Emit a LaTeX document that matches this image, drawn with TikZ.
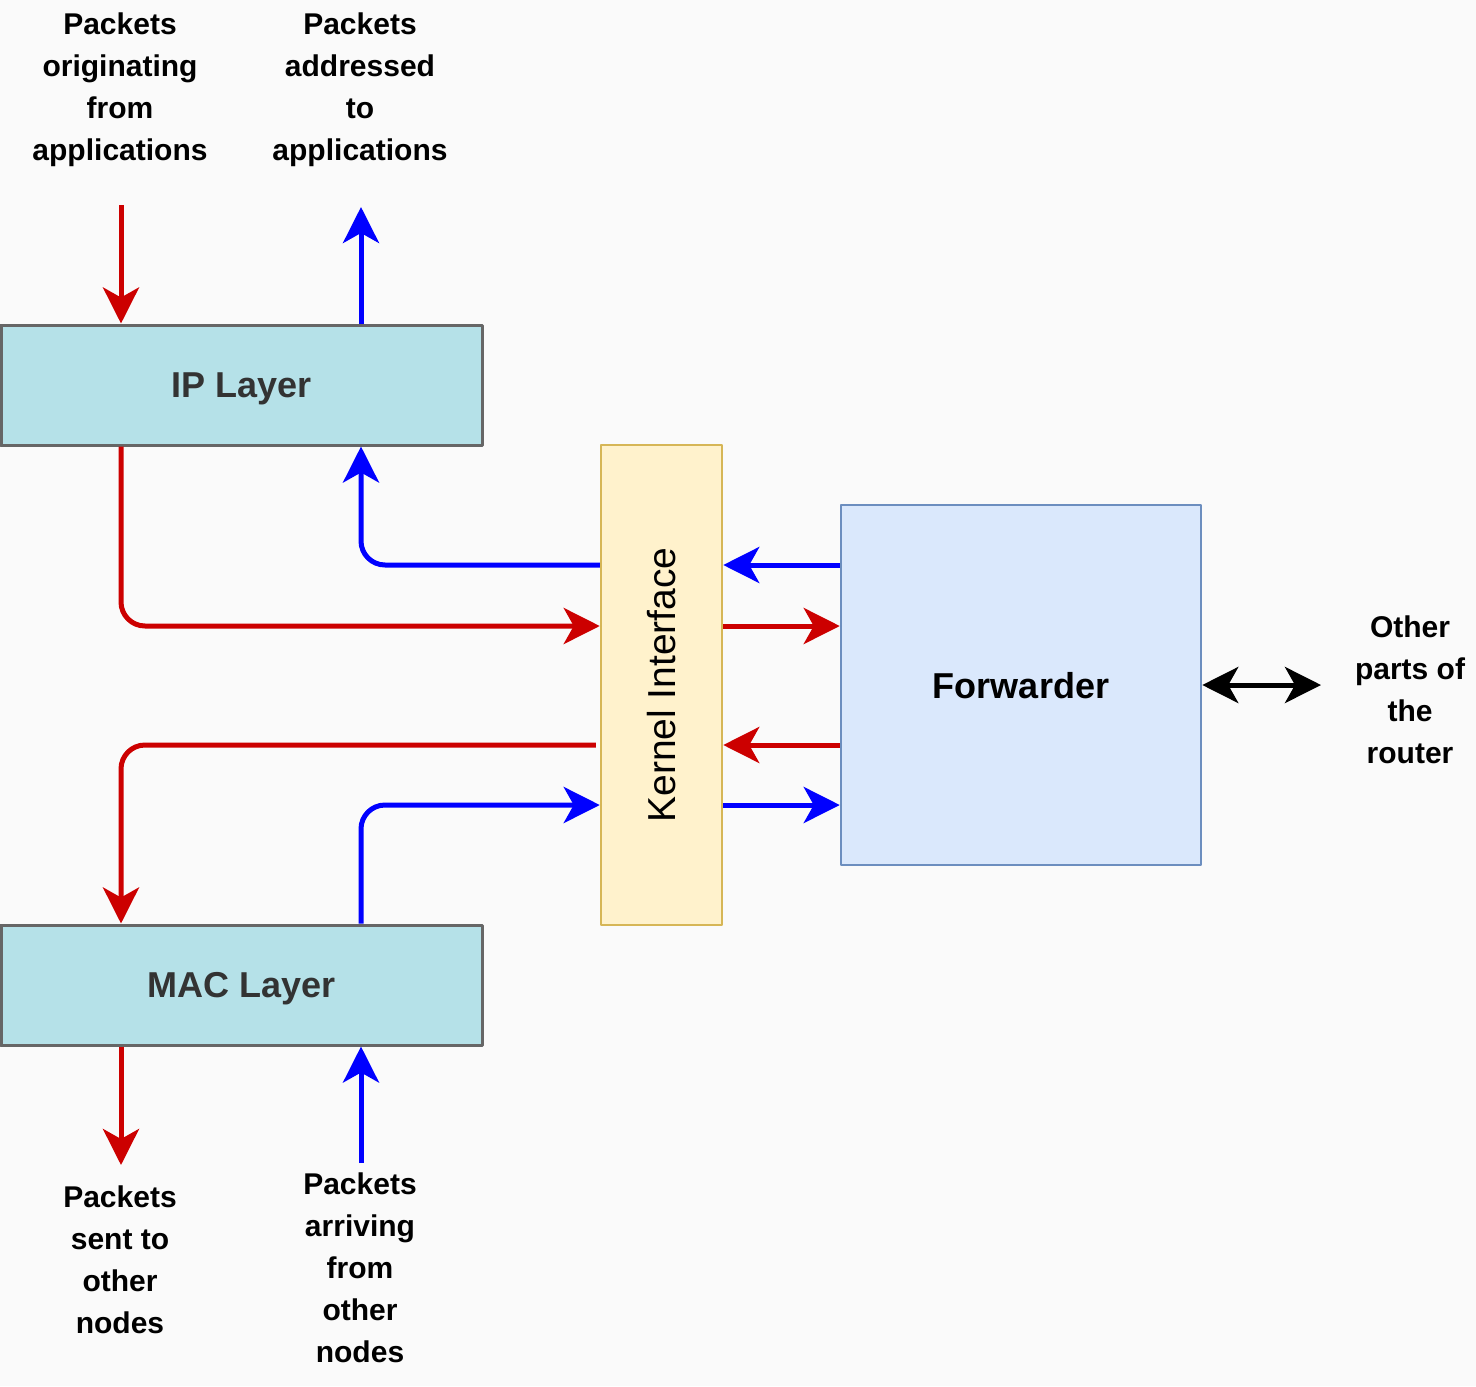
\documentclass[tikz,border=0pt]{standalone}
\usepackage{fontspec}
\setmainfont{Liberation Sans}
\usetikzlibrary{arrows.meta,calc}
\definecolor{bgcol}{HTML}{FAFAFA}
\definecolor{layerfill}{HTML}{B5E1E8}
\definecolor{layerline}{HTML}{666666}
\definecolor{layertext}{HTML}{333333}
\definecolor{kernfill}{HTML}{FFF2CC}
\definecolor{kernline}{HTML}{D6B656}
\definecolor{fwdfill}{HTML}{DAE8FC}
\definecolor{fwdline}{HTML}{6C8EBF}
\definecolor{pktred}{HTML}{CC0000}
\definecolor{pktblue}{HTML}{0000FF}
\tikzset{
  layerbox/.style={draw=layerline,fill=layerfill,line width=1.5pt,minimum width=240.5pt,minimum height=60pt,
    text=layertext,text depth=0pt,font=\bfseries\fontsize{18}{22}\selectfont},
  flowlabel/.style={align=center,font=\bfseries\fontsize{15}{21}\selectfont},
  flow/.style={line width=2.5pt,-{Stealth[length=18pt,width=18pt,inset=5pt]}},
  redflow/.style={flow,draw=pktred},
  blueflow/.style={flow,draw=pktblue},
}
\begin{document}
\begin{tikzpicture}[x=0.5pt,y=-0.5pt,line join=round]
  \fill[bgcol] (0,0) rectangle (1476,1386);
  \useasboundingbox (0,0) rectangle (1476,1386);
  % boxes
  \node[layerbox] (ip) at (241.5,385) {IP Layer};
  \node[layerbox] (mac) at (241.5,985) {MAC Layer};
  \node[draw=kernline,fill=kernfill,line width=1.25pt,minimum width=60.5pt,minimum height=240pt] (kernel) at (661.5,685) {};
  \node[rotate=90,text depth=0pt,font=\fontsize{19.5}{22}\selectfont] (kernlabel) at (kernel) {Kernel Interface};
  \node[draw=fwdline,fill=fwdfill,line width=1.25pt,minimum size=180pt,text depth=0pt,font=\bfseries\fontsize{18}{22}\selectfont] (fwd) at (1021,685) {Forwarder};
  % labels
  \node[flowlabel] (origin) at (120,90) {Packets\\originating\\from\\applications};
  \node[flowlabel] (addressed) at (360,90) {Packets\\addressed\\to\\applications};
  \node[flowlabel] (sent) at (120,1260) {Packets\\sent to\\other\\nodes};
  \node[flowlabel] (arriving) at (360,1268) {Packets\\arriving\\from\\other\\nodes};
  \node[flowlabel] (others) at (1410,690) {Other\\parts of\\the\\router};
  % ends and rows
  \coordinate (appout) at (121,205);
  \coordinate (appin) at (361,207);
  \coordinate (sentend) at (121,1165);
  \coordinate (arrend) at (361,1163);
  \coordinate (othend) at (1321,685);
  \coordinate (y1) at (0,565);
  \coordinate (y2) at (0,626);
  \coordinate (y3) at (0,745);
  \coordinate (y4) at (0,805);
  % flows
  \draw[redflow] (appout) -- (ip.north -| appout);
  \draw[blueflow] (ip.north -| appin) -- (appin);
  \draw[redflow,rounded corners=12pt] (ip.south -| appout) |- (kernel.west |- y2);
  \draw[blueflow,rounded corners=12pt] (kernel.west |- y1) -| (ip.south -| appin);
  \draw[redflow,rounded corners=12pt] ([xshift=-2pt]kernel.west |- y3) -| (mac.north -| appout);
  \draw[blueflow,rounded corners=12pt] (mac.north -| appin) |- (kernel.west |- y4);
  \draw[blueflow] (fwd.west |- y1) -- (kernel.east |- y1);
  \draw[redflow] (kernel.east |- y2) -- (fwd.west |- y2);
  \draw[redflow] (fwd.west |- y3) -- (kernel.east |- y3);
  \draw[blueflow] (kernel.east |- y4) -- (fwd.west |- y4);
  \draw[redflow] (mac.south -| sentend) -- (sentend);
  \draw[blueflow] (arrend) -- (mac.south -| arrend);
  \draw[line width=2.5pt,{Stealth[length=18pt,width=18pt,inset=5pt]}-{Stealth[length=18pt,width=18pt,inset=5pt]}] (fwd.east) -- (othend);
\end{tikzpicture}
\end{document}
